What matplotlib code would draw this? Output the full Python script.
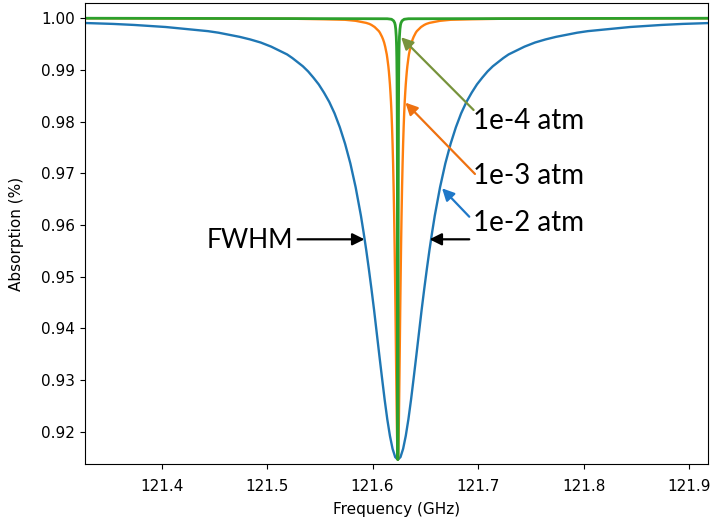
import matplotlib
matplotlib.use("Agg")
import matplotlib.pyplot as plt
import numpy as np

# line centre (GHz) and read-off absorption profiles (offset from centre, value)
center = 121.624

blue_off = [0, 0.0025, 0.005, 0.0075, 0.01, 0.0125, 0.015, 0.0175, 0.02, 0.0225,
            0.025, 0.0275, 0.03, 0.0325, 0.035, 0.04, 0.045, 0.05, 0.055, 0.06,
            0.065, 0.07, 0.075, 0.08, 0.085, 0.09, 0.095, 0.10, 0.105, 0.11, 0.115,
            0.12, 0.13, 0.14, 0.15, 0.16, 0.17, 0.18, 0.20, 0.22, 0.25, 0.27, 0.30]
blue_val = [0.9146, 0.9151, 0.9167, 0.9192, 0.9224, 0.9262, 0.9304, 0.9347, 0.9391,
            0.9435, 0.9476, 0.9515, 0.9552, 0.9586, 0.9618, 0.9673, 0.9719, 0.9757,
            0.9789, 0.9816, 0.9838, 0.9856, 0.9872, 0.9885, 0.9897, 0.9907, 0.9915,
            0.9923, 0.9930, 0.9935, 0.9940, 0.9945, 0.9953, 0.9959, 0.9964, 0.9968,
            0.9972, 0.9975, 0.9979, 0.9983, 0.9987, 0.9989, 0.9991]

orange_off = [0, 0.00025, 0.0005, 0.00075, 0.001, 0.00125, 0.0015, 0.00175, 0.002,
              0.00225, 0.0025, 0.00275, 0.003, 0.00325, 0.0035, 0.004, 0.0045, 0.005,
              0.0055, 0.006, 0.0065, 0.007, 0.0075, 0.008, 0.0085, 0.009, 0.0095,
              0.010, 0.0105, 0.011, 0.0115, 0.012, 0.013, 0.014, 0.015, 0.016, 0.017,
              0.018, 0.020, 0.022, 0.025, 0.027, 0.030, 0.04, 0.05, 0.07, 0.1, 0.3]
orange_val = [0.9146, 0.9151, 0.9167, 0.9192, 0.9224, 0.9262, 0.9304, 0.9347, 0.9391,
              0.9435, 0.9476, 0.9515, 0.9552, 0.9586, 0.9618, 0.9673, 0.9719, 0.9757,
              0.9789, 0.9816, 0.9838, 0.9856, 0.9872, 0.9885, 0.9897, 0.9907, 0.9915,
              0.9923, 0.9930, 0.9935, 0.9940, 0.9945, 0.9953, 0.9959, 0.9964, 0.9968,
              0.9972, 0.9975, 0.9979, 0.9983, 0.9987, 0.9989, 0.9991, 0.9995, 0.9997,
              0.9998, 0.9999, 1.0]

green_off = [0, 0.00005, 0.0001, 0.00015, 0.0002, 0.00025, 0.0003, 0.0004, 0.0005,
             0.0006, 0.0008, 0.001, 0.0012, 0.0015, 0.002, 0.0025, 0.003, 0.004,
             0.006, 0.01, 0.3]
green_val = [0.9146, 0.9167, 0.9224, 0.9304, 0.9391, 0.9476, 0.9552, 0.9673, 0.9757,
             0.9816, 0.9885, 0.9923, 0.9945, 0.9964, 0.9979, 0.9987, 0.9991, 0.9995,
             0.9998, 0.9999, 1.0]

labels = ["1e-2 atm", "1e-3 atm", "1e-4 atm"]


def mirror(off, val):
    off = np.array(off)
    val = np.array(val)
    x = center + np.concatenate([-off[::-1], off[1:]])
    y = np.concatenate([val[::-1], val[1:]])
    return x, y


fig = plt.figure(figsize=(7.12, 5.23), dpi=100)
ax = fig.add_axes([0.1187, 0.1122, 0.8757, 0.8826])

for off, val, c, lw in [(blue_off, blue_val, "#1f77b4", 1.7),
                        (orange_off, orange_val, "#ff7f0e", 1.7),
                        (green_off, green_val, "#2ca02c", 2.0)]:
    x, y = mirror(off, val)
    ax.plot(x, y, color=c, lw=lw, solid_joinstyle="round")

ax.set_xlim(121.327, 121.918)
ax.set_ylim(0.9137, 1.003)
ax.set_yticks([0.92, 0.93, 0.94, 0.95, 0.96, 0.97, 0.98, 0.99, 1.00])
ax.yaxis.set_major_formatter(plt.FuncFormatter(lambda v, p: f"{v:.2f}"))
ax.tick_params(labelsize=11)
ax.tick_params(axis="x", pad=7)
ax.set_xlabel("Frequency (GHz)", fontsize=11, labelpad=6)
ax.set_ylabel("Absorption (%)", fontsize=11, labelpad=12)

afont = dict(family="Lato", fontsize=20, ha="left", va="baseline")
arr = dict(arrowstyle="-|>", mutation_scale=18, lw=1.6, shrinkA=0, shrinkB=0)

# FWHM arrows
ax.text(121.4425, 0.9556, "FWHM", **dict(afont, fontsize=19))
ax.annotate("", xy=(121.5924, 0.95723), xytext=(121.529, 0.95723),
            arrowprops=dict(arr, color="black"))
ax.annotate("", xy=(121.654, 0.95723), xytext=(121.6917, 0.95723),
            arrowprops=dict(arr, color="black"))

# pressure labels
ax.text(121.6955, 0.95884, labels[0], **afont)
ax.text(121.6955, 0.96793, labels[1], **afont)
ax.text(121.6955, 0.97858, labels[2], **afont)
ax.annotate("", xy=(121.6659, 0.96710), xytext=(121.6917, 0.96160),
            arrowprops=dict(arr, color="#1f78c8"))
ax.annotate("", xy=(121.6312, 0.98367), xytext=(121.6971, 0.96987),
            arrowprops=dict(arr, color="#ee7110"))
ax.annotate("", xy=(121.6271, 0.99632), xytext=(121.6958, 0.98225),
            arrowprops=dict(arr, color="#77933c"))

plt.savefig("out.png", dpi=100)
